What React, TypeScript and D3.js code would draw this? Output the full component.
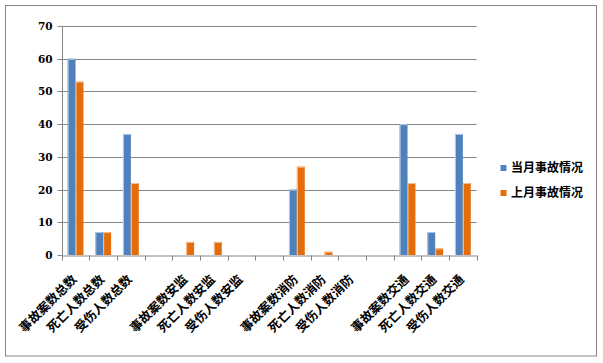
import { useEffect, useRef } from "react";
import * as d3 from "d3";

const categories = [
  "事故案数总数", "死亡人数总数", "受伤人数总数", "",
  "事故案数安监", "死亡人数安监", "受伤人数安监", " ",
  "事故案数消防", "死亡人数消防", "受伤人数消防", "  ",
  "事故案数交通", "死亡人数交通", "受伤人数交通",
];
const currentMonth = [60, 7, 37, 0, 0, 0, 0, 0, 20, 0, 0, 0, 40, 7, 37];
const lastMonth = [53, 7, 22, 0, 4, 4, 0, 0, 27, 1, 0, 0, 22, 2, 22];
const seriesNames = ["当月事故情况", "上月事故情况"];
const colors = ["#4F81BD", "#E46C0A"];
const edgeColors = ["#B7CBE6", "#F5C49A"];
const yTicks = [0, 10, 20, 30, 40, 50, 60, 70];

export default function App() {
  const svgRef = useRef<SVGSVGElement>(null);

  useEffect(() => {
    if (!svgRef.current) return;
    const svg = d3.select(svgRef.current);
    svg.selectAll("*").remove();

    const W = 603, H = 363;
    const left = 61.7, right = 476.7, top = 26, bottom = 255;
    const cjk = "'Noto Sans CJK SC', sans-serif";
    const num = "'DejaVu Serif', serif";

    svg.append("rect").attr("x", 0).attr("y", 0).attr("width", W).attr("height", H).attr("fill", "#fff");
    svg.append("rect")
      .attr("x", 5.5).attr("y", 5.5).attr("width", 591).attr("height", 350.5)
      .attr("fill", "none").attr("stroke", "#868686").attr("stroke-width", 1);

    const x = d3.scaleBand<string>().domain(categories).range([left, right]).paddingInner(0).paddingOuter(0);
    const y = d3.scaleLinear().domain([0, 70]).range([bottom, top]);

    // gridlines
    svg.append("g")
      .selectAll("line")
      .data(yTicks.filter((t) => t > 0))
      .enter()
      .append("line")
      .attr("x1", left).attr("x2", right)
      .attr("y1", (d) => Math.round(y(d)) + 0.5).attr("y2", (d) => Math.round(y(d)) + 0.5)
      .attr("stroke", "#868686");

    // bars
    const bw = x.bandwidth();
    const barW = bw / 3.5;
    const series = [currentMonth, lastMonth];
    series.forEach((vals, si) => {
      const g = svg.append("g");
      vals.forEach((v, i) => {
        if (!v) return;
        const bx = (x(categories[i]) as number) + bw * 0.75 / 3.5 + si * barW;
        g.append("rect")
          .attr("x", bx).attr("y", y(v))
          .attr("width", barW).attr("height", y(0) - y(v))
          .attr("fill", colors[si]);
        g.append("path")
          .attr("d", `M${bx + 0.5},${bottom} V${y(v) + 0.5} H${bx + barW - 0.5}`)
          .attr("fill", "none").attr("stroke", edgeColors[si]).attr("stroke-width", 1);
      });
    });

    // y axis
    const yAxis = svg.append("g")
      .attr("transform", `translate(${Math.round(left) + 0.5},0)`)
      .call(d3.axisLeft(y).tickValues(yTicks).tickSize(5).tickPadding(5).tickFormat((d) => `${d}`));
    yAxis.selectAll(".domain").attr("stroke", "#868686").attr("d", `M0,${y(70)}V${y(0)}`);
    yAxis.selectAll(".tick line").attr("stroke", "#868686");
    yAxis.selectAll(".tick").attr("transform", (d: any) => `translate(0,${Math.round(y(d)) + 0.5})`);
    yAxis.selectAll("text")
      .attr("fill", "#000").attr("font-size", "10.5px").attr("font-weight", "bold").attr("font-family", num);

    // x axis
    const xAxis = svg.append("g")
      .attr("transform", `translate(0,${Math.round(bottom) + 0.5})`)
      .call(d3.axisBottom(x).tickSize(0).tickFormat(() => ""));
    xAxis.selectAll(".domain").attr("stroke", "#868686");
    const edges = d3.range(categories.length + 1).map((i) => left + i * bw);
    xAxis.selectAll(".edge")
      .data(edges)
      .enter()
      .append("line")
      .attr("x1", (d) => Math.round(d) + 0.5).attr("x2", (d) => Math.round(d) + 0.5)
      .attr("y1", 0).attr("y2", 5)
      .attr("stroke", "#868686");

    // category labels
    svg.append("g")
      .selectAll("text")
      .data(categories.filter((c) => c.trim() !== ""))
      .enter()
      .append("text")
      .attr("transform", (d) => `translate(${(x(d) as number) + bw / 2 - 1},${bottom + 22}) rotate(-45)`)
      .attr("text-anchor", "end")
      .attr("dy", "0.35em")
      .attr("font-family", cjk)
      .attr("font-weight", "bold")
      .attr("font-size", "12.5px")
      .attr("fill", "#000")
      .text((d) => d);

    // legend
    const lg = svg.append("g");
    seriesNames.forEach((name, i) => {
      const ly = 168 + i * 25;
      lg.append("rect").attr("x", 500.5).attr("y", ly - 3).attr("width", 6).attr("height", 6).attr("fill", colors[i]);
      lg.append("text")
        .attr("x", 511).attr("y", ly).attr("dy", "0.35em")
        .attr("font-family", cjk).attr("font-weight", "bold").attr("font-size", "12px")
        .attr("fill", "#000").text(name);
    });
  }, []);

  return (
    <div style={{ position: "absolute", left: 0, top: 0 }}>
      <svg ref={svgRef} width={603} height={363} style={{ display: "block" }} />
    </div>
  );
}
